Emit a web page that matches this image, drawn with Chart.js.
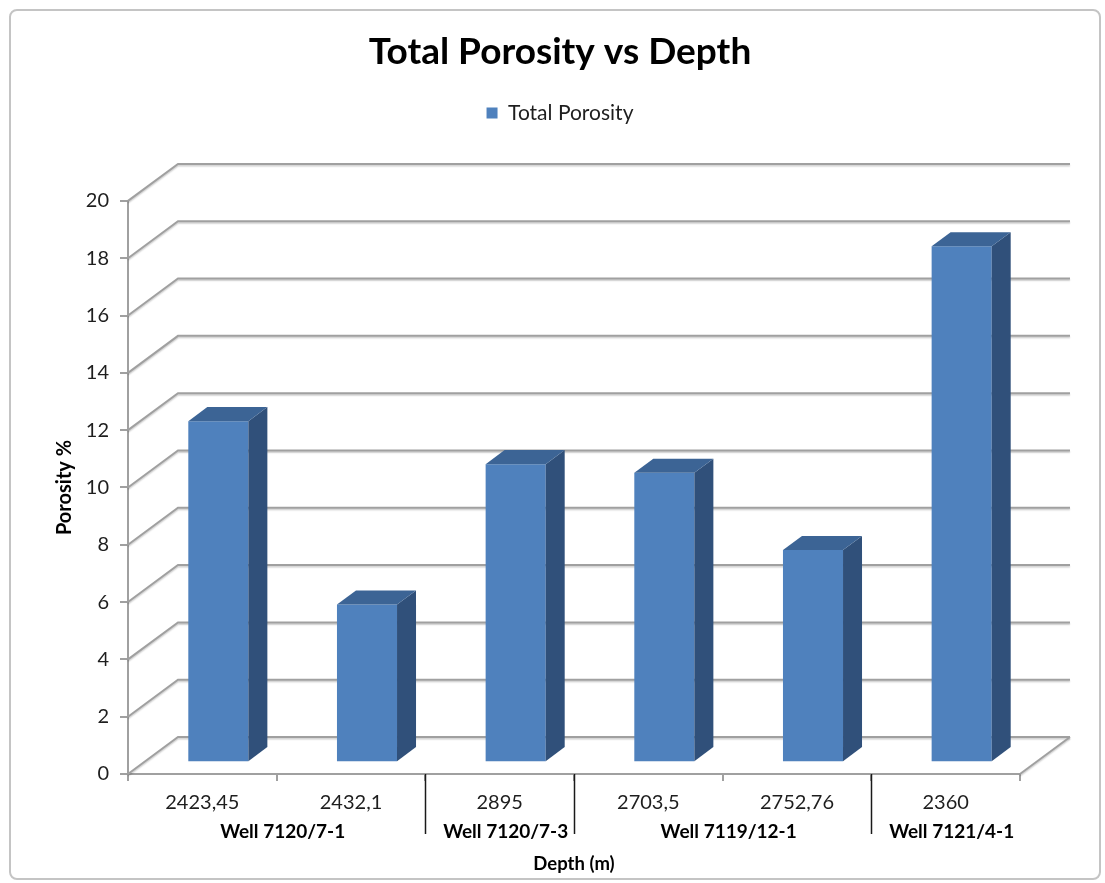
<!DOCTYPE html>
<html>
<head>
<meta charset="utf-8">
<title>Total Porosity vs Depth</title>
<script src="https://cdn.jsdelivr.net/npm/chart.js@4.4.1/dist/chart.umd.min.js"></script>
<style>
  html, body { margin: 0; padding: 0; background: #ffffff; }
  canvas { display: block; }
</style>
</head>
<body>
<canvas id="chart" width="1105" height="883"></canvas>
<script>
// Sample depths (m), one per core sample, in drawing order
const depths = ['2423,45', '2432,1', '2895', '2703,5', '2752,76', '2360'];
// Total porosity (%) for each sample
const porosity = [11.9, 5.5, 10.4, 10.1, 7.4, 18.0];
// Wells and how many consecutive samples belong to each
const wells = ['Well 7120/7-1', 'Well 7120/7-3', 'Well 7119/12-1', 'Well 7121/4-1'];
const wellSampleCounts = [2, 1, 2, 1];
// Porosity axis range and step
const yMin = 0;
const yMax = 20;
const yStep = 2;

const FONT = 'Lato, Carlito, "Open Sans", "DejaVu Sans", sans-serif';
const GRID_COLOR = '#a0a0a0';
const TEXT_COLOR = '#1e1e1e';

// Perspective vector from the front plane to the back wall
const DEPTH = { dx: 50, dy: -37 };
// Bars occupy this slice of the depth (fractions of DEPTH)
const BAR_FRONT = 0.32;
const BAR_BACK = 0.70;

const BAR_FRONT_COLOR = '#4f81bd';
const BAR_TOP_COLOR = '#3c6495';
const BAR_SIDE_COLOR = '#30507a';

// Side wall, back wall and floor outline, then shifts the bars into the box
const box3d = {
  id: 'box3d',
  beforeDatasetsDraw(chart) {
    const { ctx, chartArea: a, scales: { y } } = chart;
    ctx.save();
    ctx.strokeStyle = GRID_COLOR;
    ctx.lineWidth = 2;
    ctx.shadowColor = 'rgba(0,0,0,0.2)';
    ctx.shadowOffsetY = 1.5;
    ctx.shadowBlur = 1.5;
    y.ticks.forEach(t => {
      const py = y.getPixelForValue(t.value);
      ctx.beginPath();
      ctx.moveTo(a.left, py);
      ctx.lineTo(a.left + DEPTH.dx, py + DEPTH.dy);
      ctx.lineTo(a.right + DEPTH.dx, py + DEPTH.dy);
      ctx.stroke();
    });
    ctx.beginPath();
    ctx.moveTo(a.right, a.bottom);
    ctx.lineTo(a.right + DEPTH.dx, a.bottom + DEPTH.dy);
    ctx.stroke();
    ctx.restore();

    // front faces of the bars are drawn by the bar controller in this frame
    ctx.save();
    ctx.translate(DEPTH.dx * BAR_FRONT, DEPTH.dy * BAR_FRONT);
  },
  afterDatasetsDraw(chart) {
    const { ctx } = chart;
    ctx.restore();
    const fx = DEPTH.dx * BAR_FRONT, fy = DEPTH.dy * BAR_FRONT;
    const bx = DEPTH.dx * (BAR_BACK - BAR_FRONT), by = DEPTH.dy * (BAR_BACK - BAR_FRONT);
    ctx.save();
    chart.getDatasetMeta(0).data.forEach(el => {
      const { x, y, base, width } = el.getProps(['x', 'y', 'base', 'width'], true);
      const L = x - width / 2 + fx, R = x + width / 2 + fx;
      const T = y + fy, B = base + fy;
      // right side face
      ctx.fillStyle = BAR_SIDE_COLOR;
      ctx.beginPath();
      ctx.moveTo(R, T);
      ctx.lineTo(R + bx, T + by);
      ctx.lineTo(R + bx, B + by);
      ctx.lineTo(R, B);
      ctx.closePath();
      ctx.fill();
      // top face
      ctx.fillStyle = BAR_TOP_COLOR;
      ctx.beginPath();
      ctx.moveTo(L, T);
      ctx.lineTo(L + bx, T + by);
      ctx.lineTo(R + bx, T + by);
      ctx.lineTo(R, T);
      ctx.closePath();
      ctx.fill();
    });
    ctx.restore();
  }
};

// Second level of the category axis: well names with separators between wells
const wellGroups = {
  id: 'wellGroups',
  afterDraw(chart) {
    const { ctx, chartArea: a, scales: { x } } = chart;
    const edge = i => (x.getPixelForValue(i) + x.getPixelForValue(i + 1)) / 2;
    ctx.save();
    ctx.font = 'bold 19px ' + FONT;
    ctx.fillStyle = '#000000';
    ctx.textAlign = 'center';
    ctx.textBaseline = 'middle';
    ctx.strokeStyle = '#1a1a1a';
    ctx.lineWidth = 1.5;
    let start = 0;
    wells.forEach((name, g) => {
      const end = start + wellSampleCounts[g] - 1;
      const left = start === 0 ? a.left : edge(start - 1);
      const right = end === depths.length - 1 ? a.right : edge(end);
      ctx.fillText(name, (left + right) / 2 + 6, 832);
      if (end < depths.length - 1) {
        ctx.beginPath();
        ctx.moveTo(Math.round(right) + 0.5, a.bottom);
        ctx.lineTo(Math.round(right) + 0.5, 834);
        ctx.stroke();
      }
      start = end + 1;
    });
    ctx.restore();
  }
};

// Rounded frame around the whole chart
const frame = {
  id: 'frame',
  afterDraw(chart) {
    const { ctx } = chart;
    ctx.save();
    ctx.strokeStyle = '#c4c4c4';
    ctx.lineWidth = 2;
    ctx.beginPath();
    ctx.roundRect(10, 10, 1090, 869, 7);
    ctx.stroke();
    ctx.restore();
  }
};

function build() {
  Chart.defaults.font.family = FONT;
  Chart.defaults.color = TEXT_COLOR;

  new Chart(document.getElementById('chart'), {
    type: 'bar',
    data: {
      labels: depths,
      datasets: [{
        label: 'Total Porosity',
        data: porosity,
        backgroundColor: BAR_FRONT_COLOR,
        borderWidth: 0,
        categoryPercentage: 1,
        barPercentage: 0.404,
        clip: false
      }]
    },
    options: {
      responsive: false,
      animation: false,
      devicePixelRatio: 1,
      layout: { padding: { top: 0, left: 15, right: 0, bottom: 0 } },
      plugins: {
        tooltip: { enabled: false },
        title: {
          display: true,
          text: 'Total Porosity vs Depth',
          color: '#000000',
          font: { size: 37, weight: 'bold', lineHeight: 1.2 },
          padding: { top: 30, bottom: 18 }
        },
        legend: {
          display: true,
          position: 'top',
          labels: {
            color: TEXT_COLOR,
            font: { size: 21 },
            boxWidth: 11,
            boxHeight: 11,
            padding: 10
          }
        },
        subtitle: {
          display: true,
          text: '',
          position: 'top',
          weight: 500,
          font: { size: 10, lineHeight: 1 },
          padding: { top: 0, bottom: 57.5 }
        }
      },
      scales: {
        x: {
          type: 'category',
          afterFit(scale) { scale.height = 109; },
          grid: {
            display: true,
            drawOnChartArea: false,
            drawTicks: true,
            tickLength: 7,
            color: GRID_COLOR,
            lineWidth: 2
          },
          border: { display: true, color: GRID_COLOR, width: 2 },
          ticks: {
            color: TEXT_COLOR,
            font: { size: 20 },
            padding: 10,
            maxRotation: 0,
            autoSkip: false
          },
          title: {
            display: true,
            text: 'Depth (m)',
            color: '#000000',
            font: { size: 18.5, weight: 'bold', lineHeight: 1.2 },
            padding: { top: 0, bottom: 8 }
          }
        },
        y: {
          min: yMin,
          max: yMax,
          afterFit(scale) { scale.width = 113; },
          grid: {
            display: true,
            drawOnChartArea: false,
            drawTicks: true,
            tickLength: 8,
            color: GRID_COLOR,
            lineWidth: 2
          },
          border: { display: true, color: GRID_COLOR, width: 2 },
          ticks: {
            stepSize: yStep,
            color: TEXT_COLOR,
            font: { size: 20 },
            padding: 11
          },
          title: {
            display: true,
            text: 'Porosity %',
            color: '#000000',
            font: { size: 20, weight: 'bold', lineHeight: 1.2 },
            padding: { top: 38, bottom: 0 }
          }
        },
        // empty right-hand axis: keeps room for the back wall's depth
        depthRoom: {
          type: 'linear',
          position: 'right',
          afterFit(scale) { scale.width = 85; },
          grid: { display: false },
          border: { display: false },
          ticks: { display: false }
        }
      }
    },
    plugins: [box3d, wellGroups, frame]
  });
}

const fontLoads = [
  'bold 37px Lato', '20px Lato', 'bold 19px Lato'
].map(f => document.fonts.load(f).catch(() => null));
Promise.all(fontLoads).then(build, build);
</script>
</body>
</html>
